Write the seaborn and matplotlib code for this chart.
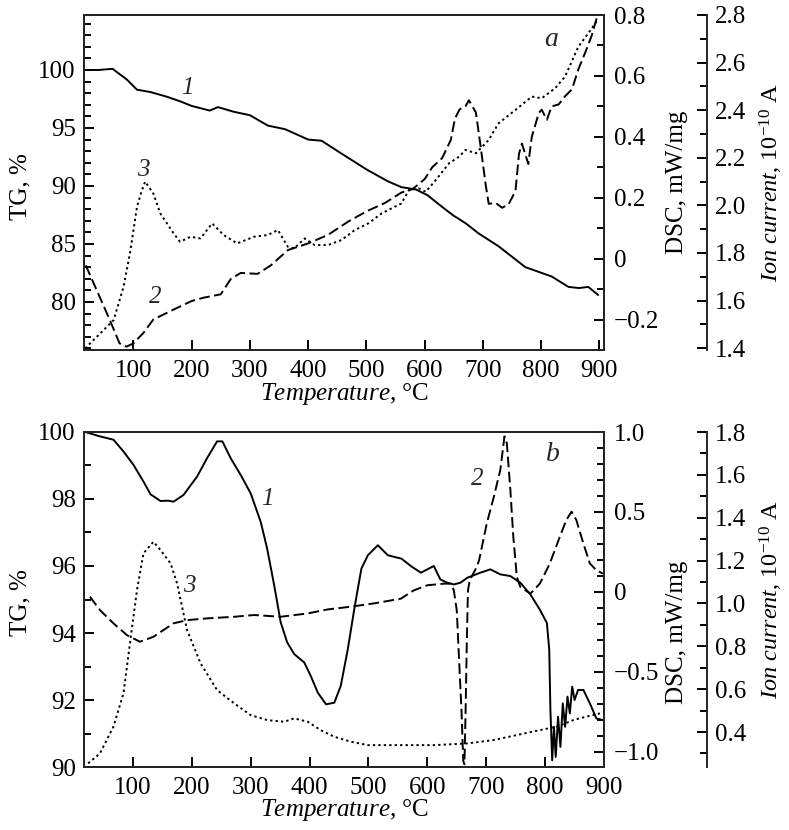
import numpy as np
import pandas as pd
import seaborn as sns
from matplotlib import pyplot as plt
from matplotlib.ticker import MultipleLocator, FuncFormatter

# PANEL a DATA

ta_tg = [17, 40, 64, 88, 106, 129, 157, 180, 200, 231, 245, 272, 300, 331, 360, 400, 423, 457, 501, 537,
         560, 585, 605, 630, 648, 670, 693, 727, 750, 773, 790, 818, 847, 865, 881, 898]
tg_a = [100.0, 100.0, 100.1, 99.2, 98.3, 98.1, 97.7, 97.3, 96.9, 96.5, 96.8, 96.4, 96.1, 95.2, 94.9, 94.0, 93.9, 92.8, 91.4, 90.4,
        89.9, 89.7, 89.2, 88.2, 87.5, 86.8, 85.9, 84.8, 83.9, 83.0, 82.7, 82.2, 81.3, 81.2, 81.3, 80.6]

ta_dsc = [18, 36, 59, 76, 88, 100, 117, 134, 169, 200, 221, 250, 267, 284, 313, 336, 365, 400, 434, 469,
          501, 532, 560, 579, 600, 613, 630, 645, 652, 660, 670, 676, 682, 688, 696, 705, 710, 722, 733, 744,
          756, 762, 767, 778, 784, 796, 801, 810, 818, 830, 841, 853, 864, 876, 887, 897]
dsc_a = [-0.022, -0.1, -0.2, -0.278, -0.289, -0.278, -0.244, -0.2, -0.167, -0.139, -0.128, -0.117, -0.067, -0.047, -0.05, -0.022, 0.028, 0.05, 0.078, 0.122,
         0.156, 0.183, 0.217, 0.228, 0.261, 0.30, 0.33, 0.39, 0.46, 0.49, 0.50, 0.52, 0.50, 0.48, 0.37, 0.24, 0.18, 0.183, 0.167, 0.178,
         0.222, 0.344, 0.378, 0.311, 0.40, 0.478, 0.489, 0.456, 0.50, 0.506, 0.533, 0.556, 0.622, 0.678, 0.733, 0.80]

ta_ion = [17, 43, 66, 83, 94, 106, 114, 120, 134, 146, 169, 180, 198, 215, 235, 255, 278, 307, 330, 348,
          365, 376, 394, 411, 434, 457, 480, 503, 526, 560, 573, 590, 602, 619, 642, 659, 670, 688, 710, 727,
          756, 784, 801, 824, 841, 864, 881, 897]
ion_a = [1.399, 1.462, 1.518, 1.658, 1.80, 1.994, 2.06, 2.10, 2.05, 1.966, 1.882, 1.847, 1.868, 1.861, 1.924, 1.875, 1.84, 1.868, 1.875, 1.896,
         1.826, 1.819, 1.861, 1.833, 1.833, 1.854, 1.896, 1.924, 1.966, 2.008, 2.064, 2.071, 2.057, 2.106, 2.177, 2.204, 2.233, 2.219, 2.275, 2.345,
         2.401, 2.457, 2.45, 2.492, 2.541, 2.667, 2.723, 2.779]

# PANEL b DATA

tb_tg = [19, 44, 67, 84, 101, 118, 130, 147, 160, 169, 186, 209, 226, 243, 252, 266, 283, 300, 317, 328,
         340, 351, 362, 374, 391, 402, 414, 428, 442, 453, 465, 476, 488, 499, 516, 533, 556, 572, 589, 611,
         622, 634, 645, 656, 668, 690, 707, 724, 741, 758, 775, 791, 803, 807, 809, 812, 815, 818, 822, 826,
         830, 834, 838, 842, 846, 850, 856, 865, 876, 887, 898]
tg_b = [100.0, 99.87, 99.77, 99.42, 99.02, 98.52, 98.14, 97.94, 97.95, 97.92, 98.12, 98.67, 99.22, 99.72, 99.72, 99.22, 98.72, 98.17, 97.32, 96.52,
        95.42, 94.32, 93.72, 93.37, 93.12, 92.72, 92.22, 91.87, 91.92, 92.42, 93.52, 94.72, 95.92, 96.32, 96.62, 96.32, 96.22, 96.0, 95.8, 96.0,
        95.6, 95.5, 95.45, 95.5, 95.65, 95.8, 95.9, 95.75, 95.7, 95.5, 95.15, 94.7, 94.3, 93.5, 91.7, 90.2, 91.2, 90.3, 91.5, 90.6,
        91.9, 91.2, 92.1, 91.6, 92.4, 92.0, 92.3, 92.3, 91.9, 91.45, 91.4]

tb_dsc = [27, 44, 67, 90, 112, 135, 169, 192, 226, 272, 306, 351, 397, 431, 470, 510, 555, 577, 600, 628,
          640, 645, 650, 654, 658, 661, 663, 665, 667, 669, 672, 684, 688, 701, 713, 724, 731, 735, 741, 746,
          752, 758, 775, 791, 808, 825, 836, 845, 853, 865, 876, 887, 898]
dsc_b = [-0.029, -0.113, -0.196, -0.27, -0.311, -0.28, -0.196, -0.176, -0.165, -0.155, -0.144, -0.155, -0.134, -0.109, -0.092, -0.071, -0.042, 0.01, 0.042, 0.052,
         0.052, 0.01, -0.115, -0.43, -0.74, -1.056, -1.077, -0.74, -0.32, 0.01, 0.073, 0.157, 0.2, 0.429, 0.596, 0.764, 0.973, 0.93, 0.638, 0.345,
         0.094, 0.031, -0.01, 0.052, 0.178, 0.345, 0.45, 0.502, 0.45, 0.303, 0.178, 0.136, 0.115]

tb_ion = [24, 44, 67, 84, 95, 107, 118, 135, 147, 164, 175, 192, 215, 243, 272, 300, 328, 357, 374, 397,
          419, 442, 470, 499, 527, 556, 611, 668, 713, 752, 791, 820, 848, 870, 893]
ion_b = [0.254, 0.3, 0.425, 0.58, 0.814, 1.063, 1.234, 1.288, 1.249, 1.187, 1.094, 0.876, 0.72, 0.596, 0.534, 0.479, 0.456, 0.448, 0.464, 0.448,
         0.409, 0.378, 0.355, 0.339, 0.339, 0.339, 0.339, 0.347, 0.363, 0.386, 0.409, 0.425, 0.456, 0.472, 0.487]

# STYLE

sns.set_theme(style='ticks')
plt.rcParams['font.family'] = ['Liberation Serif', 'DejaVu Serif']
plt.rcParams['mathtext.fontset'] = 'custom'
plt.rcParams['mathtext.rm'] = 'Liberation Serif'
plt.rcParams['mathtext.it'] = 'Liberation Serif:italic'
plt.rcParams['font.size'] = 18
plt.rcParams['axes.labelsize'] = 18
plt.rcParams['axes.linewidth'] = 1.4
plt.rcParams['axes.labelcolor'] = 'black'
plt.rcParams['xtick.color'] = 'black'
plt.rcParams['ytick.color'] = 'black'

W, H = 789, 830
fig = plt.figure(figsize=(W / 100, H / 100), dpi=100)

DASH = (0, (5.5, 2.3))
DOT = (0, (1.2, 1.6))
LW = 1.4


def fmt(v, pos):
    if abs(v) < 1e-9:
        return '0'
    return ('%.1f' % v).replace('-', '\u2212')


def tick_style(a):
    a.tick_params(axis='both', which='both', direction='in', width=1.4, labelsize=18, colors='black')
    a.tick_params(axis='both', which='major', length=7)
    a.tick_params(axis='both', which='minor', length=5)


def panel(top, xlim, tg, tgl, dsc, dscl, ion, ionl, tgmaj, dscticks):
    ax = fig.add_axes([84 / W, (H - top - 335) / H, 520 / W, 335 / H])
    ax2 = ax.twinx()
    ax3 = ax.twinx()

    sns.lineplot(x=tg[0], y=tg[1], ax=ax, color='black', lw=LW, estimator=None)
    sns.lineplot(x=dsc[0], y=dsc[1], ax=ax2, color='black', lw=LW, linestyle=DASH, estimator=None)
    sns.lineplot(x=ion[0], y=ion[1], ax=ax3, color='black', lw=LW, linestyle=DOT, estimator=None)

    ax.set_xlim(*xlim)
    ax.set_ylim(*tgl)
    ax2.set_ylim(*dscl)
    ax3.set_ylim(*ionl)

    ax.set_xticks([100, 200, 300, 400, 500, 600, 700, 800, 900])
    ax.yaxis.set_major_locator(MultipleLocator(tgmaj))
    ax.yaxis.set_minor_locator(MultipleLocator(1))
    ax2.set_yticks(dscticks)
    ax2.yaxis.set_minor_locator(MultipleLocator(0.1))
    ax2.yaxis.set_major_formatter(FuncFormatter(fmt))
    ax3.yaxis.set_major_locator(MultipleLocator(0.2))
    ax3.yaxis.set_minor_locator(MultipleLocator(0.1))
    ax3.yaxis.set_major_formatter(FuncFormatter(fmt))

    for a in (ax, ax2, ax3):
        tick_style(a)
    ax.tick_params(axis='x', pad=7)
    ax.tick_params(axis='y', pad=6)
    ax.tick_params(axis='x', which='minor', bottom=False)
    ax2.tick_params(axis='y', pad=7)
    ax3.tick_params(axis='y', pad=6)

    ax3.spines['right'].set_position(('axes', (707 - 84) / 520))
    for s in ('top', 'left', 'bottom'):
        ax3.spines[s].set_visible(False)
    ax3.patch.set_visible(False)

    ax.set_xlabel(r'$\mathit{Temperature}$, °C', va='center', fontsize=18)
    ax.set_ylabel('TG, %', va='center', fontsize=18)
    ax2.set_ylabel('DSC, mW/mg', va='center', fontsize=18)
    ax3.set_ylabel(r'$\mathit{Ion\ current}$, 10$^{-10}$ A', va='center', fontsize=17.5)
    return ax, ax2, ax3


ax, ax2, ax3 = panel(15, (15, 908), (ta_tg, tg_a), (75.86, 104.74), (ta_dsc, dsc_a), (-0.3, 0.8),
                     (ta_ion, ion_a), (1.392, 2.8), 5, [-0.2, 0, 0.2, 0.4, 0.6, 0.8])
ax.xaxis.set_label_coords(0.5, -0.132)
ax.yaxis.set_label_coords(-0.123, 0.487)
ax2.yaxis.set_label_coords(1.140, 0.5)
ax3.yaxis.set_label_coords(1.322, 0.5)
ax.text(192, 98.45, '1', style='italic', ha='center', va='center', fontsize=18)
ax.text(138, 80.4, '2', style='italic', ha='center', va='center', fontsize=18)
ax.text(117, 91.4, '3', style='italic', ha='center', va='center', fontsize=18)
ax.text(818, 102.6, 'a', style='italic', ha='center', va='center', fontsize=20)

bx, bx2, bx3 = panel(432, (17, 900), (tb_tg, tg_b), (90, 100), (tb_dsc, dsc_b), (-1.094, 1.0),
                     (tb_ion, ion_b), (0.237, 1.8), 2, [-1.0, -0.5, 0, 0.5, 1.0])
bx.xaxis.set_label_coords(0.5, -0.127)
bx.yaxis.set_label_coords(-0.123, 0.49)
bx2.yaxis.set_label_coords(1.140, 0.403)
bx3.yaxis.set_label_coords(1.322, 0.5)
bx.text(328, 98.0, '1', style='italic', ha='center', va='center', fontsize=18)
bx.text(684, 98.6, '2', style='italic', ha='center', va='center', fontsize=18)
bx.text(195, 95.4, '3', style='italic', ha='center', va='center', fontsize=18)
bx.text(814, 99.34, 'b', style='italic', ha='center', va='center', fontsize=20)

plt.savefig('out.png', dpi=100)
